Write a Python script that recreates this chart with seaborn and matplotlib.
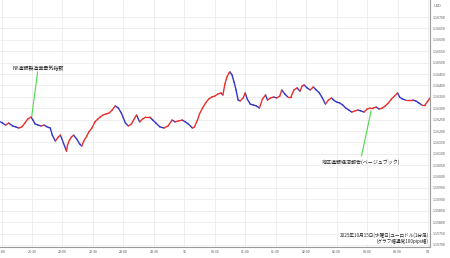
import matplotlib
matplotlib.use("Agg")
import matplotlib.pyplot as plt
import pandas as pd
import seaborn as sns

# ---- data (minutes after 21:00 JST, EUR/USD 1-min close) ----
minutes_after_2100 = [-1, 1, 4, 7, 11, 14, 17, 20, 23, 26, 29, 31, 33, 36, 39, 42, 45, 48,
                      50, 53, 56, 58, 61, 64, 65, 67, 69, 71, 74, 77, 79, 81, 84, 86, 89,
                      92, 95, 97, 100, 103, 106, 109, 112, 115, 118, 120, 122, 125, 128,
                      130, 133, 136, 139, 142, 146, 149, 152, 156, 160, 164, 168, 171, 174,
                      178, 181, 184, 188, 190, 193, 195, 198, 201, 204, 207, 210, 213, 216,
                      218, 220, 222, 224, 225, 227, 229, 231, 233, 235, 238, 240, 242, 245,
                      248, 251, 254, 257, 260, 262, 265, 268, 271, 274, 276, 279, 282, 285,
                      288, 291, 294, 296, 298, 301, 304, 307, 310, 313, 316, 319, 322, 325,
                      327, 330, 333, 336, 339, 342, 345, 348, 351, 354, 357, 360, 363, 366,
                      369, 372, 375, 378, 381, 384, 387, 390, 392, 395, 398, 402, 405, 408,
                      411, 414, 417, 420, 422]
price = [1.16240, 1.16235, 1.16226, 1.16235, 1.16222, 1.16218, 1.16213, 1.16218, 1.16235,
         1.16253, 1.16261, 1.16248, 1.16231, 1.16226, 1.16222, 1.16226, 1.16218, 1.16213,
         1.16182, 1.16156, 1.16174, 1.16182, 1.16147, 1.16112, 1.16139, 1.16161, 1.16174,
         1.16182, 1.16165, 1.16143, 1.16134, 1.16156, 1.16178, 1.16196, 1.16213,
         1.16240, 1.16253, 1.16261, 1.16270, 1.16275, 1.16279, 1.16292, 1.16310, 1.16301,
         1.16279, 1.16257, 1.16235, 1.16222, 1.16231,
         1.16248, 1.16270, 1.16240, 1.16253, 1.16261, 1.16261, 1.16248, 1.16235, 1.16218,
         1.16213, 1.16222, 1.16248, 1.16240, 1.16244,
         1.16248, 1.16240, 1.16231, 1.16213, 1.16218, 1.16248, 1.16275, 1.16301, 1.16323,
         1.16340, 1.16349, 1.16353, 1.16362, 1.16367,
         1.16358, 1.16406, 1.16437, 1.16454, 1.16459, 1.16446, 1.16415, 1.16380, 1.16336,
         1.16332, 1.16345, 1.16367, 1.16340, 1.16318,
         1.16314, 1.16310, 1.16301, 1.16340, 1.16358, 1.16336, 1.16345, 1.16349, 1.16345,
         1.16353, 1.16380, 1.16362, 1.16349, 1.16349,
         1.16380, 1.16389, 1.16375, 1.16397, 1.16402, 1.16389, 1.16380, 1.16393, 1.16380,
         1.16367, 1.16345, 1.16318, 1.16336, 1.16345,
         1.16336, 1.16327, 1.16323, 1.16314, 1.16301, 1.16292, 1.16283, 1.16288, 1.16292,
         1.16288, 1.16283, 1.16296, 1.16301, 1.16301,
         1.16305, 1.16296, 1.16301, 1.16310, 1.16323, 1.16340, 1.16353, 1.16367, 1.16349,
         1.16340, 1.16336, 1.16336, 1.16336, 1.16332,
         1.16323, 1.16314, 1.16314, 1.16332, 1.16345]

tick_minutes = [0, 30, 60, 90, 120, 150, 180, 210, 240, 270, 300, 330, 360, 390, 420]
tick_labels = ["21:00", "21:30", "22:00", "22:30", "23:00", "23:30", "16", "00:30",
               "01:00", "01:30", "02:00", "02:30", "03:00", "03:30", "04"]
price_ticks = [1.15700, 1.15750, 1.15800, 1.15850, 1.15900, 1.15950, 1.16000, 1.16050,
               1.16100, 1.16150, 1.16200, 1.16250, 1.16300, 1.16350, 1.16400, 1.16450,
               1.16500, 1.16550, 1.16600, 1.16650, 1.16700]

ny_event = ("NY連銀製造業景気指数", 29.7, 1.16263, 35.6, 1.16460, 11.3, 1.16472)
beige_event = ("地区連銀経済報告(ベージュブック)", 364.0, 1.16288, 354.5, 1.16090, 315.6, 1.16065)
caption = "2025年10月15日(水曜日)ユーロドル(1分足)\n(グラフ幅通常100pips幅)"

# ---- style ----
sns.set_style("white")
plt.rcParams["font.family"] = ["Noto Sans CJK JP", "DejaVu Sans"]

fig = plt.figure(figsize=(4.5, 2.58), dpi=100)
ax = fig.add_axes([0, 11 / 258, 430 / 450, 247 / 258])

rows = []
for i in range(len(minutes_after_2100) - 1):
    d = "up" if price[i + 1] >= price[i] else "down"
    rows.append((i, minutes_after_2100[i], price[i], d))
    rows.append((i, minutes_after_2100[i + 1], price[i + 1], d))
df = pd.DataFrame(rows, columns=["seg", "t", "p", "dir"])

sns.lineplot(data=df, x="t", y="p", hue="dir", units="seg", estimator=None,
             palette={"up": "#e8302c", "down": "#3434c8"}, lw=1.0, legend=False,
             ax=ax, sort=False)

ax.set_xlim(-1.5, 422)
ax.set_ylim(1.156912, 1.167746)
ax.set_xticks(tick_minutes)
ax.set_xticklabels(tick_labels)
ax.set_yticks(price_ticks)
ax.set_yticklabels([f"{v:.5f}" for v in price_ticks])
ax.yaxis.tick_right()
ax.tick_params(axis="both", labelsize=2.6, colors="#555555", length=0)
ax.tick_params(axis="x", pad=2.2)
ax.tick_params(axis="y", pad=2.2)
ax.set_xlabel("")
ax.set_ylabel("")
ax.grid(True, color="#ebebeb", lw=0.6)
ax.set_axisbelow(True)
for s in ["left", "top"]:
    ax.spines[s].set_visible(False)
for s in ["right", "bottom"]:
    ax.spines[s].set_color("#9a9a9a")
    ax.spines[s].set_linewidth(0.8)

# annotations
for label, x0, y0, x1, y1, tx, ty in [ny_event, beige_event]:
    ax.plot([x0, x1], [y0, y1], color="#4cd94c", lw=0.8)
    ax.text(tx, ty, label, fontsize=3.6, color="#222222", ha="left", va="center")

ax.text(0.997, 0.012, caption, transform=ax.transAxes, fontsize=3.3, color="#222222",
        ha="right", va="bottom", linespacing=1.05, multialignment="right",
        bbox=dict(facecolor="white", edgecolor="none", pad=0.3))

fig.text(437 / 450, 1 - 6 / 258, "USD", fontsize=2.8, color="#555555", ha="center", va="center")

fig.savefig("out.png", dpi=100)
